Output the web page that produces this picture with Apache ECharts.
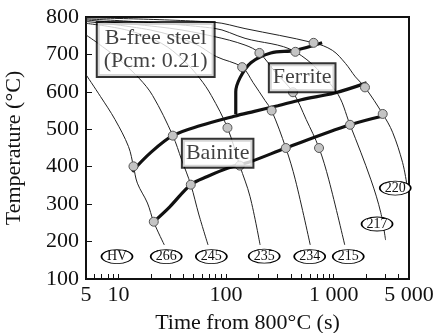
<!DOCTYPE html>
<html>
<head>
<meta charset="utf-8">
<script src="https://cdn.jsdelivr.net/npm/echarts@6/dist/echarts.min.js"></script>
<style>
  html, body { margin: 0; padding: 0; background: #fff; }
  #main { width: 441px; height: 333px; }
</style>
</head>
<body>
<div id="main"></div>
<script>
// axis
var xLabelValues = [5, 10, 100, 1000, 5000];
var xTickValues = [6, 7, 8, 9, 10, 20, 30, 40, 50, 60, 70, 80, 90, 100,
    200, 300, 400, 500, 600, 700, 800, 900, 1000, 2000, 3000, 4000];

// cooling curves [time s, temperature C], named by hardness
var curve266 = [[5, 646], [6.8, 588], [9.3, 526], [12.4, 454], [13.8, 401], [15, 356], [18.6, 303], [21.3, 252], [26.7, 191]];
var curve245 = [[5, 752], [6.3, 732], [10, 688], [15.6, 636], [20.8, 590], [32, 483], [38.6, 419], [47, 352], [56, 271], [68, 191]];
var curve235 = [[5, 783], [12, 765], [25, 730], [40, 685], [57, 636], [73, 590], [103, 504], [134, 403], [167, 320], [207, 191]];
var curve234 = [[5, 788], [20, 765], [50, 730], [81.5, 694], [141, 666], [178, 625], [230, 577], [265, 550], [359, 450], [440, 365], [605, 191]];
var curve215 = [[5, 792], [30, 770], [77, 748], [150, 725], [204, 704], [288, 652], [418, 599], [555, 526], [730, 450], [900, 365], [1265, 191]];
var curve217 = [[5, 795], [77, 770], [150, 743], [440, 707], [1040, 603], [1416, 512], [2215, 365], [2735, 277], [3030, 204]];
var curve220 = [[5, 798], [77, 786], [150, 769], [650, 731], [970, 711], [1285, 676], [1590, 640], [1950, 612], [2850, 541], [3520, 492], [4360, 411], [4780, 352]];

// transformation lines
var ferriteStart = [[123, 541], [123, 600], [135, 638], [170, 678], [260, 704], [440, 711], [780, 731]];
var bainiteStart = [[13.4, 387], [19.8, 437], [32, 483], [58, 510], [119, 535], [183, 548], [302, 563], [500, 579], [1020, 597], [2020, 624]];
var bainiteEnd = [[21.5, 254], [30, 293], [47, 352], [67, 374], [103, 396], [170, 414], [359, 450], [1416, 512], [3000, 537]];

// measured points
var points = [[13.8, 401], [21.3, 253], [32, 483], [47, 352], [103, 504], [134, 403], [141, 666], [204, 704],
    [440, 707], [650, 731], [265, 550], [418, 599], [359, 450], [730, 450], [1416, 512], [1950, 612], [2850, 541]];

// hardness labels
var hvNames = ['HV', '266', '245', '235', '234', '215', '217', '220'];
var hvAt = [[9.7, 160], [27.8, 160], [73, 160], [226, 161], [598, 160], [1364, 160], [2525, 247], [3727, 343]];

// text boxes
var noteNames = ['B-free steel\n(Pcm: 0.21)', 'Ferrite', 'Bainite'];
var noteAt = [[22.2, 713], [509, 638], [83.5, 436]];

var font = 'Liberation Serif';
var ink = '#111';

var chart = echarts.init(document.getElementById('main'), null, {renderer: 'canvas'});

var series = [];
[curve266, curve245, curve235, curve234, curve215, curve217, curve220].forEach(function (c) {
    series.push({
        type: 'line', data: c, smooth: 0.35, symbol: 'none', z: 2,
        lineStyle: {color: '#222', width: 1}
    });
});
[ferriteStart, bainiteStart, bainiteEnd].forEach(function (c) {
    series.push({
        type: 'line', data: c, smooth: 0.35, symbol: 'none', z: 3,
        lineStyle: {color: ink, width: 3.2}
    });
});
series.push({
    type: 'scatter', data: points, symbol: 'circle', symbolSize: 9, z: 4,
    itemStyle: {color: '#c4c4c4', borderColor: '#555', borderWidth: 1, opacity: 1}
});
series.push({
    type: 'scatter', z: 6,
    data: hvAt.map(function (p, i) { return {value: p, name: hvNames[i]}; }),
    symbol: 'circle', symbolSize: [31, 14],
    itemStyle: {color: '#fff', borderColor: '#000', borderWidth: 1.2, opacity: 1},
    label: {show: true, position: 'inside', formatter: '{b}', fontFamily: font, fontSize: 14, color: ink}
});
series.push({
    type: 'scatter', z: 8,
    data: noteAt.map(function (p, i) {
        var item = {value: p, name: noteNames[i]};
        if (i === 0) item.label = {padding: [4, 6, 3, 6]};
        return item;
    }),
    symbol: 'circle', symbolSize: 1,
    itemStyle: {color: 'rgba(0,0,0,0)'},
    label: {
        show: true, position: 'inside', formatter: '{b}', fontFamily: font, fontSize: 22,
        lineHeight: 23, color: ink, backgroundColor: '#fff', borderColor: '#000', borderWidth: 2,
        padding: [3, 3, 1, 3], align: 'center', verticalAlign: 'middle'
    }
});

var option = {
    animation: false,
    grid: {left: 86, right: 32, top: 17, bottom: 54, outerBoundsMode: 'none',
        show: true, borderColor: ink, borderWidth: 2},
    xAxis: {
        type: 'log', logBase: 10, min: 5, max: 5000,
        name: 'Time from 800°C (s)', nameLocation: 'middle', nameGap: 33,
        nameTextStyle: {fontFamily: font, fontSize: 22, color: ink},
        axisLine: {lineStyle: {color: ink, width: 2}},
        axisTick: {show: true, inside: true, length: 5, customValues: xTickValues, lineStyle: {color: ink, width: 1}},
        axisLabel: {
            customValues: xLabelValues, fontFamily: font, fontSize: 22, color: ink, margin: 5,
            formatter: function (v) { return v >= 1000 ? String(v).replace('000', ' 000') : String(v); }
        },
        splitLine: {show: false}
    },
    yAxis: {
        type: 'value', min: 100, max: 800, interval: 100,
        name: 'Temperature (°C)', nameLocation: 'middle', nameGap: 61,
        nameTextStyle: {fontFamily: font, fontSize: 22, color: ink},
        axisLine: {show: true, lineStyle: {color: ink, width: 2}},
        axisTick: {show: true, inside: true, length: 6, lineStyle: {color: ink, width: 1}},
        axisLabel: {fontFamily: font, fontSize: 22, color: ink, margin: 7},
        splitLine: {show: false}
    },
    series: series
};

chart.setOption(option);
</script>
</body>
</html>
